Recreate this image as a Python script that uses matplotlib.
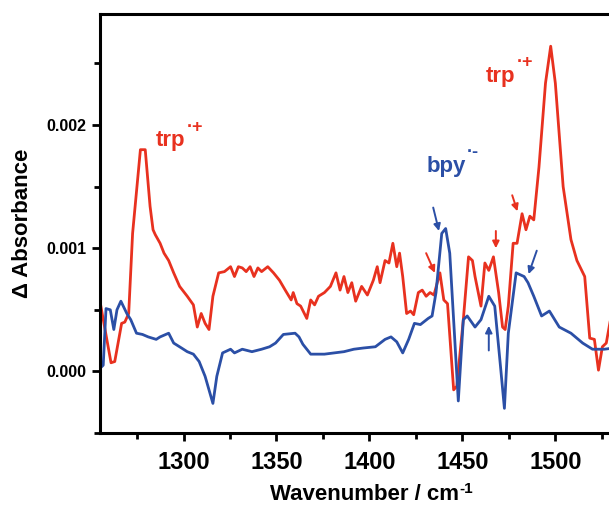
import numpy as np
import matplotlib.pyplot as plt
from matplotlib.ticker import MultipleLocator

# difference spectrum, red trace (trp radical cation)
red_x = [1255.4, 1261, 1263, 1266.7, 1268.4, 1270.5, 1272.6, 1276.8, 1279.4, 1282,
         1283.6, 1284.8, 1287.4, 1289.5, 1292, 1294.7, 1297.9, 1302, 1305.3, 1307.4,
         1309.5, 1311.6, 1313.7, 1315.8, 1318.9, 1322, 1325.3, 1327.4, 1329.5, 1331.6,
         1333.7, 1335.8, 1337.9, 1340, 1342, 1345.3, 1348.4, 1351.6, 1354.7, 1357.9,
         1359, 1361, 1363, 1366.3, 1368.4, 1370.5, 1372.6, 1375.8, 1379, 1382,
         1384.2, 1386.3, 1388.4, 1390.5, 1392.6, 1395.8, 1398.9, 1402.1, 1404.2, 1405.7,
         1408.4, 1410.5, 1412.6, 1414.7, 1416.2, 1417.9, 1420, 1422.1, 1423.8, 1426.3,
         1428.4, 1430.5, 1432.6, 1434.7, 1437.9, 1440, 1442, 1445.3, 1447, 1450.5,
         1453.3, 1455.4, 1456.8, 1460, 1462.1, 1464.2, 1466.7, 1469.5, 1471.6, 1473,
         1474.7, 1477.3, 1479.4, 1482.1, 1484.2, 1486.3, 1488.4, 1491.2, 1494.7, 1497.5,
         1500, 1504.2, 1508.4, 1511.6, 1515.8, 1518.5, 1521, 1523.2, 1525.3, 1527.4,
         1530, 1531.5]
red_y = [0.00054, 0.00007, 0.00008, 0.00039, 0.00040, 0.00047, 0.00112, 0.00180, 0.00180, 0.00134,
         0.00115, 0.00111, 0.00104, 0.00096, 0.00090, 0.00080, 0.00069, 0.00061, 0.00054, 0.00036,
         0.00047, 0.00039, 0.00034, 0.00061, 0.00080, 0.00081, 0.00085, 0.00077, 0.00085, 0.00084,
         0.00081, 0.00085, 0.00077, 0.00084, 0.00081, 0.00085, 0.00080, 0.00074, 0.00066, 0.00058,
         0.00064, 0.00055, 0.00053, 0.00043, 0.00058, 0.00054, 0.00061, 0.00064, 0.00069, 0.00080,
         0.00066, 0.00077, 0.00064, 0.00072, 0.00057, 0.00069, 0.00062, 0.00074, 0.00085, 0.00072,
         0.00090, 0.00088, 0.00104, 0.00085, 0.00096, 0.00077, 0.00047, 0.00049, 0.00046, 0.00064,
         0.00066, 0.00061, 0.00064, 0.00062, 0.00080, 0.00058, 0.00055, -0.00015, -0.00012, 0.00042,
         0.00093, 0.00090, 0.00077, 0.00053, 0.00088, 0.00082, 0.00093, 0.00064, 0.00036, 0.00034,
         0.00053, 0.00104, 0.00104, 0.00128, 0.00115, 0.00126, 0.00123, 0.00166, 0.00234, 0.00264,
         0.00234, 0.00150, 0.00107, 0.00090, 0.00077, 0.00027, 0.00026, 0.00001, 0.00020, 0.00023,
         0.00045, 0.00058]

# blue trace (bpy radical anion)
blue_x = [1255.4, 1256.8, 1258.3, 1260.6, 1262.5, 1264.2, 1266.3, 1269.5, 1271.6, 1274.7,
          1277.9, 1281, 1285.3, 1287.4, 1292, 1294.7, 1298.9, 1302, 1305.3, 1308.4,
          1311.6, 1315.8, 1317.9, 1321, 1325.3, 1327.4, 1331.6, 1336.8, 1342, 1346.3,
          1349.5, 1353.7, 1360, 1362.1, 1364.2, 1368.4, 1375.8, 1381, 1386.3, 1391.6,
          1396.8, 1403.2, 1408.4, 1411.6, 1414.7, 1417.9, 1421.1, 1424.2, 1427.4, 1431.6,
          1433.7, 1435.8, 1438.9, 1441, 1443.2, 1445.7, 1447.8, 1450.5, 1452.6, 1456.8,
          1460, 1464.2, 1467.4, 1470.5, 1472.6, 1474.7, 1478.9, 1483.2, 1485.3, 1488.4,
          1492.6, 1496.8, 1502.1, 1508.4, 1514.7, 1520, 1526.3, 1531.5]
blue_y = [0.00003, 0.00005, 0.00051, 0.00050, 0.00034, 0.00050, 0.00057, 0.00047, 0.00042, 0.00031,
          0.00030, 0.00028, 0.00026, 0.00028, 0.00031, 0.00023, 0.00019, 0.00016, 0.00014, 0.00008,
          -0.00004, -0.00026, -0.00004, 0.00015, 0.00018, 0.00015, 0.00018, 0.00016, 0.00018, 0.00020,
          0.00023, 0.00030, 0.00031, 0.00028, 0.00022, 0.00014, 0.00014, 0.00015, 0.00016, 0.00018,
          0.00019, 0.00020, 0.00026, 0.00028, 0.00024, 0.00015, 0.00026, 0.00039, 0.00038, 0.00043,
          0.00045, 0.00064, 0.00112, 0.00116, 0.00096, 0.00031, -0.00024, 0.00042, 0.00045, 0.00036,
          0.00042, 0.00061, 0.00053, 0.00004, -0.00030, 0.00031, 0.00080, 0.00077, 0.00072, 0.00061,
          0.00045, 0.00049, 0.00036, 0.00031, 0.00023, 0.00018, 0.00018, 0.00019]

red = '#e8311f'
blue = '#2b4fa6'

fig = plt.figure(figsize=(6.09, 5.07), dpi=100)
ax = fig.add_axes([0.164, 0.146, 0.87, 0.826])

ax.plot(red_x, red_y, color=red, lw=2.0)
ax.plot(blue_x, blue_y, color=blue, lw=2.0)

ax.set_xlim(1255, 1540)
ax.set_ylim(-0.0005, 0.0029)
ax.xaxis.set_major_locator(MultipleLocator(50))
ax.xaxis.set_minor_locator(MultipleLocator(25))
ax.yaxis.set_major_locator(MultipleLocator(0.001))
ax.yaxis.set_minor_locator(MultipleLocator(0.0005))
ax.yaxis.set_major_formatter(plt.FormatStrFormatter('%.3f'))

for s in ax.spines.values():
    s.set_linewidth(2.2)
ax.tick_params(which='both', direction='out', width=2, top=False, right=False)
ax.tick_params(which='major', length=6)
ax.tick_params(which='minor', length=4)
ax.tick_params(axis='x', pad=7)
for lab in ax.get_xticklabels():
    lab.set_fontsize(17)
    lab.set_fontweight('bold')
    lab.set_family('Liberation Sans')
for lab in ax.get_yticklabels():
    lab.set_fontsize(11.5)
    lab.set_fontweight('bold')
    lab.set_family('Liberation Sans')

font = dict(fontweight='bold', family='Liberation Sans')
ax.set_xlabel('Wavenumber / cm', fontsize=16, labelpad=7, **font)
# superscript -1 hooked onto the end of the x label
ax.annotate('-1', xy=(1, 1), xycoords=ax.xaxis.label, xytext=(0, 1),
            textcoords='offset points', fontsize=11, ha='left', va='top', **font)
ax.set_ylabel('\u0394 Absorbance', fontsize=16, labelpad=10, **font)

# peak labels with a small raised radical mark
labels = [(1285.0, 0.00183, 'trp', '\u00b7+', red),
          (1462.5, 0.00235, 'trp', '\u00b7+', red),
          (1430.5, 0.00162, 'bpy', '\u00b7-', blue)]
for x, y, base, sup, c in labels:
    t = ax.text(x, y, base, color=c, fontsize=16, **font)
    ax.annotate(sup, xy=(1, 1), xycoords=t, xytext=(1, -4),
                textcoords='offset points', color=c, fontsize=13,
                ha='left', va='bottom', **font)

# small arrows marking bands
arr = [((1430.5, 0.00096), (1435.2, 0.00080), red),
       ((1468.0, 0.00114), (1468.0, 0.00100), red),
       ((1476.8, 0.00143), (1479.6, 0.00130), red),
       ((1434.3, 0.00133), (1437.4, 0.00114), blue),
       ((1464.2, 0.00017), (1464.2, 0.00037), blue),
       ((1490.0, 0.00098), (1485.6, 0.00079), blue)]
for start, end, c in arr:
    ax.annotate('', xy=end, xytext=start,
                arrowprops=dict(arrowstyle='-|>', color=c, lw=1.4,
                                mutation_scale=10, shrinkA=0, shrinkB=0))

fig.savefig('out.png', dpi=100)
